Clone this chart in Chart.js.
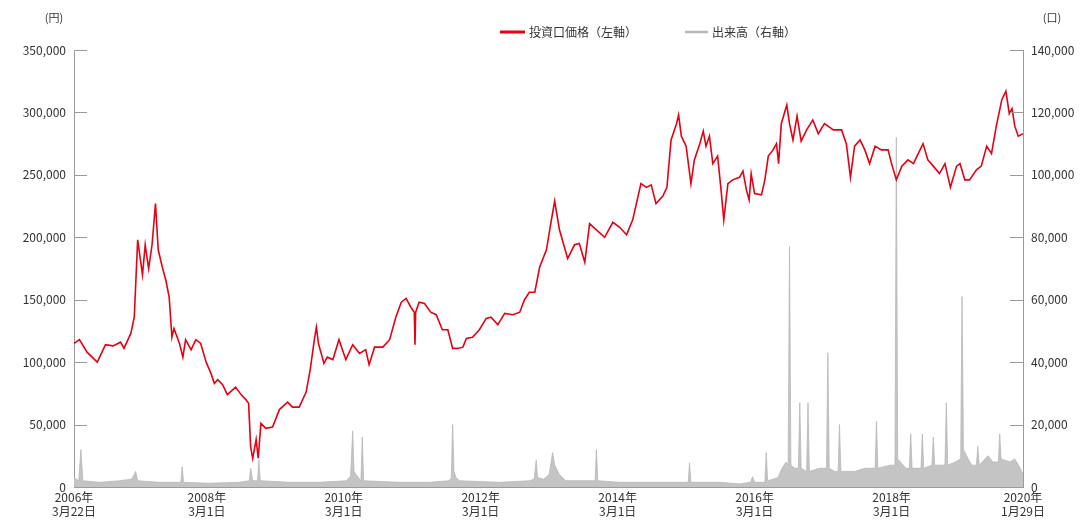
<!DOCTYPE html>
<html lang="ja">
<head>
<meta charset="utf-8">
<title>投資口価格と出来高</title>
<script src="https://cdn.jsdelivr.net/npm/chart.js@4.4.1/dist/chart.umd.min.js"></script>
<style>
  html, body { margin: 0; padding: 0; background: #fff; }
  #wrap { position: relative; width: 1088px; height: 526px; }
</style>
</head>
<body>
<div id="wrap"><canvas id="chart"></canvas></div>
<script>
// x values are decimal years (2006.22 = 2006-03-22)
const priceYears = [
  2006.22, 2006.30, 2006.41, 2006.56, 2006.68, 2006.79, 2006.90, 2006.95,
  2007.05, 2007.10, 2007.15, 2007.22, 2007.26, 2007.31, 2007.36, 2007.41, 2007.45, 2007.51, 2007.56, 2007.61, 2007.65, 2007.68, 2007.76, 2007.81, 2007.85, 2007.93,
  2008.00, 2008.07, 2008.15, 2008.22, 2008.27, 2008.32, 2008.39, 2008.46, 2008.58, 2008.66, 2008.73, 2008.77, 2008.80, 2008.83, 2008.88, 2008.91, 2008.95,
  2009.02, 2009.12, 2009.22, 2009.34, 2009.41, 2009.51, 2009.61, 2009.67, 2009.73, 2009.76, 2009.79, 2009.87, 2009.92,
  2010.00, 2010.09, 2010.19, 2010.29, 2010.39, 2010.48, 2010.53, 2010.61, 2010.73, 2010.83, 2010.92,
  2011.00, 2011.07, 2011.14, 2011.19, 2011.20, 2011.21, 2011.26, 2011.34, 2011.43, 2011.51, 2011.60, 2011.68, 2011.75, 2011.82, 2011.90, 2011.95,
  2012.04, 2012.14, 2012.24, 2012.31, 2012.41, 2012.51, 2012.63, 2012.73, 2012.80, 2012.87, 2012.95,
  2013.02, 2013.12, 2013.18, 2013.24, 2013.31, 2013.43, 2013.53, 2013.60, 2013.68, 2013.75, 2013.85, 2013.97,
  2014.09, 2014.19, 2014.29, 2014.38, 2014.50, 2014.58, 2014.65, 2014.72, 2014.82, 2014.88, 2014.94,
  2015.02, 2015.05, 2015.09, 2015.16, 2015.23, 2015.28, 2015.36, 2015.41, 2015.45, 2015.50, 2015.55, 2015.62, 2015.67, 2015.71, 2015.77, 2015.84, 2015.94, 2015.99,
  2016.04, 2016.08, 2016.11, 2016.16, 2016.26, 2016.31, 2016.36, 2016.43, 2016.48, 2016.51, 2016.55, 2016.63, 2016.67, 2016.72, 2016.78, 2016.84, 2016.92,
  2017.01, 2017.09, 2017.18, 2017.31, 2017.43, 2017.50, 2017.56, 2017.62, 2017.70, 2017.77, 2017.84, 2017.92,
  2018.01, 2018.11, 2018.16, 2018.23, 2018.31, 2018.40, 2018.48, 2018.55, 2018.62, 2018.69, 2018.77, 2018.86, 2018.94,
  2019.02, 2019.11, 2019.16, 2019.23, 2019.30, 2019.40, 2019.47, 2019.55, 2019.62, 2019.69, 2019.77, 2019.83, 2019.88, 2019.92, 2019.96,
  2020.01, 2020.08
];
const priceValues = [
  115000, 118000, 108000, 100000, 114000, 113000, 116000, 111000,
  123000, 136000, 198000, 170000, 194000, 175000, 194000, 227000, 190000, 176000, 166000, 152000, 120000, 127000, 115000, 104000, 118000, 110000,
  118000, 115000, 100000, 91000, 83000, 86000, 82000, 74000, 80000, 74000, 70000, 67000, 32000, 23000, 38000, 23000, 51000,
  47000, 48000, 62000, 68000, 64000, 64000, 76000, 94000, 118000, 128000, 115000, 99000, 104000,
  102000, 118000, 102000, 114000, 107000, 110000, 98000, 112000, 112000, 118000, 136000,
  148000, 151000, 144000, 140000, 114000, 140000, 148000, 147000, 140000, 138000, 126000, 126000, 111000, 111000, 112000, 119000,
  120000, 126000, 135000, 136000, 130000, 139000, 138000, 140000, 150000, 156000, 156000,
  176000, 190000, 210000, 229000, 206000, 183000, 194000, 195000, 180000, 211000, 206000, 200000,
  212000, 208000, 202000, 214000, 243000, 240000, 242000, 227000, 233000, 240000, 278000,
  291000, 298000, 281000, 273000, 243000, 262000, 275000, 285000, 273000, 281000, 259000, 265000, 238000, 214000, 243000, 246000, 248000, 253000,
  238000, 230000, 251000, 235000, 234000, 246000, 265000, 270000, 275000, 259000, 291000, 306000, 291000, 278000, 297000, 277000, 286000,
  294000, 283000, 291000, 286000, 286000, 275000, 248000, 273000, 278000, 270000, 259000, 273000,
  270000, 270000, 259000, 246000, 257000, 262000, 259000, 267000, 275000, 262000, 257000, 251000, 259000,
  240000, 257000, 259000, 246000, 246000, 254000, 257000, 273000, 267000, 289000, 310000, 317000, 299000, 303000, 289000,
  281000, 283000
];

const volumeYears = [
  2006.22, 2006.29, 2006.32, 2006.35, 2006.59, 2006.88,
  2007.06, 2007.10, 2007.12, 2007.15, 2007.46, 2007.78, 2007.80, 2007.82,
  2008.19, 2008.63, 2008.78, 2008.80, 2008.83, 2008.90, 2008.92, 2008.94,
  2009.36, 2009.80,
  2010.20, 2010.26, 2010.29, 2010.31, 2010.34, 2010.39, 2010.41, 2010.43, 2010.45, 2010.97,
  2011.41, 2011.70, 2011.73, 2011.75, 2011.77, 2011.80, 2011.85,
  2012.43, 2012.87, 2012.94, 2012.97, 2012.99,
  2013.08, 2013.16, 2013.21, 2013.24, 2013.31, 2013.40, 2013.83, 2013.85, 2013.87,
  2014.19, 2014.63,
  2015.19, 2015.21, 2015.23, 2015.65, 2015.94,
  2016.10, 2016.13, 2016.16, 2016.31, 2016.33, 2016.35, 2016.50, 2016.56, 2016.62, 2016.65, 2016.67, 2016.69, 2016.75, 2016.80, 2016.82, 2016.84, 2016.92, 2016.94, 2016.96,
  2017.11, 2017.21, 2017.23, 2017.25, 2017.33, 2017.38, 2017.40, 2017.42, 2017.62, 2017.77, 2017.92, 2017.94, 2017.96,
  2018.14, 2018.21, 2018.23, 2018.25, 2018.37, 2018.42, 2018.44, 2018.46, 2018.59, 2018.61, 2018.63, 2018.75, 2018.77, 2018.79, 2018.94, 2018.96, 2018.98,
  2019.09, 2019.17, 2019.19, 2019.21, 2019.28, 2019.33, 2019.40, 2019.42, 2019.44, 2019.57, 2019.64, 2019.72, 2019.74, 2019.76, 2019.89, 2019.96,
  2020.04, 2020.08
];
const volumeValues = [
  3000, 2000, 12000, 2000, 1500, 2000,
  2500, 4000, 5000, 2000, 1500, 1500, 6500, 1500,
  1200, 1500, 2000, 6000, 2000, 2000, 8600, 2000,
  1500, 1500,
  2000, 3500, 18000, 5000, 4000, 2500, 2000, 16000, 2000, 1500,
  1500, 2000, 3000, 20000, 5000, 3000, 2000,
  1500, 2000, 2500, 8600, 3000,
  2500, 4000, 11000, 7000, 4000, 2000, 2000, 12000, 2000,
  1500, 1500,
  1500, 7700, 1500, 1500, 1000,
  1500, 3300, 1500, 1500, 11000, 2000, 3000, 6000, 8000, 7000, 77000, 7000, 6000, 6000, 27000, 6000, 5000, 27000, 5000,
  6000, 6000, 43000, 6000, 5000, 5000, 20000, 5000, 5000, 6000, 6000, 21000, 6000,
  7000, 7000, 112000, 9000, 6000, 6000, 17000, 6000, 6000, 17000, 6000, 7000, 16000, 7000, 7000, 27000, 7000,
  8000, 9000, 61000, 12000, 9000, 7000, 7000, 13000, 7000, 10000, 8000, 8000, 17000, 9000, 8000, 9000,
  6000, 4000
];

const xTickValues = [2006.22, 2008.16, 2010.16, 2012.16, 2014.16, 2016.16, 2018.16, 2020.08];
const xTickYears = ['2006年', '2008年', '2010年', '2012年', '2014年', '2016年', '2018年', '2020年'];
const xTickDays = ['3月22日', '3月1日', '3月1日', '3月1日', '3月1日', '3月1日', '3月1日', '1月29日'];

const priceLabel = '投資口価格（左軸）';
const volumeLabel = '出来高（右軸）';
const priceUnit = '(円)';
const volumeUnit = '(口)';

const FONT = '"Noto Sans CJK JP", "Noto Sans", sans-serif';
const INK = '#333333';
const AXIS = '#9a9a9a';
const RED = '#e60012';
const GREY = '#b8b8b8';

const fmt = (v) => Number(v).toLocaleString('en-US');

// tick marks pointing into the plot, legend and unit captions
const decorations = {
  id: 'decorations',
  afterDraw(chart) {
    const { ctx, chartArea, scales } = chart;
    ctx.save();
    ctx.strokeStyle = AXIS;
    ctx.lineWidth = 1;
    scales.y.ticks.forEach((t) => {
      const py = Math.round(scales.y.getPixelForValue(t.value)) + 0.5;
      ctx.beginPath();
      ctx.moveTo(chartArea.left, py);
      ctx.lineTo(chartArea.left + 13, py);
      ctx.stroke();
    });
    scales.y1.ticks.forEach((t) => {
      const py = Math.round(scales.y1.getPixelForValue(t.value)) + 0.5;
      ctx.beginPath();
      ctx.moveTo(chartArea.right, py);
      ctx.lineTo(chartArea.right - 13, py);
      ctx.stroke();
    });

    ctx.fillStyle = INK;
    ctx.font = '11px ' + FONT;
    ctx.textBaseline = 'middle';
    ctx.textAlign = 'center';
    ctx.fillText(priceUnit, 54, 18);
    ctx.fillText(volumeUnit, 1052, 18);

    // legend
    const ds = chart.data.datasets;
    const items = [
      { x: 500, len: 25, width: 3, ds: ds[0] },
      { x: 685, len: 23, width: 2.5, ds: ds[1] },
    ];
    ctx.font = '12px ' + FONT;
    ctx.textAlign = 'left';
    items.forEach((it) => {
      ctx.strokeStyle = it.ds.borderColor;
      ctx.lineWidth = it.width;
      ctx.beginPath();
      ctx.moveTo(it.x, 32);
      ctx.lineTo(it.x + it.len, 32);
      ctx.stroke();
      ctx.fillStyle = INK;
      ctx.fillText(it.ds.label, it.x + it.len + 4, 32);
    });
    ctx.restore();
  },
};

const ctx = document.getElementById('chart').getContext('2d');
new Chart(ctx, {
  type: 'line',
  data: {
    datasets: [
      {
        label: priceLabel,
        data: priceYears.map((x, i) => ({ x, y: priceValues[i] })),
        yAxisID: 'y',
        borderColor: RED,
        borderWidth: 1.6,
        pointRadius: 0,
        tension: 0,
        fill: false,
        order: 0,
      },
      {
        label: volumeLabel,
        data: volumeYears.map((x, i) => ({ x, y: volumeValues[i] })),
        yAxisID: 'y1',
        borderColor: GREY,
        backgroundColor: '#c4c4c4',
        borderWidth: 0.8,
        pointRadius: 0,
        tension: 0,
        fill: 'origin',
        order: 1,
      },
    ],
  },
  options: {
    responsive: true,
    maintainAspectRatio: false,
    animation: false,
    layout: { padding: { top: 50, left: 0, right: 0, bottom: 0 } },
    scales: {
      x: {
        type: 'linear',
        min: 2006.22,
        max: 2020.08,
        afterBuildTicks: (scale) => {
          scale.ticks = xTickValues.map((value) => ({ value }));
        },
        afterFit: (scale) => { scale.height = 39; },
        ticks: {
          autoSkip: false,
          maxRotation: 0,
          padding: 3,
          color: INK,
          font: { family: FONT, size: 12 },
          callback: (value) => {
            const i = xTickValues.indexOf(value);
            return i >= 0 ? [xTickYears[i], xTickDays[i]] : '';
          },
        },
        grid: { display: false, drawTicks: false },
        border: { display: true, color: AXIS, width: 1 },
      },
      y: {
        position: 'left',
        min: 0,
        max: 350000,
        afterFit: (scale) => { scale.width = 74; },
        ticks: {
          stepSize: 50000,
          padding: 8,
          color: INK,
          font: { family: FONT, size: 12 },
          callback: (v) => fmt(v),
        },
        grid: { display: false, drawTicks: false },
        border: { display: true, color: AXIS, width: 1 },
      },
      y1: {
        position: 'right',
        min: 0,
        max: 140000,
        afterFit: (scale) => { scale.width = 65; },
        ticks: {
          stepSize: 20000,
          padding: 8,
          color: INK,
          font: { family: FONT, size: 12 },
          callback: (v) => fmt(v),
        },
        grid: { display: false, drawTicks: false },
        border: { display: true, color: AXIS, width: 1 },
      },
    },
    plugins: {
      legend: { display: false },
      tooltip: { enabled: false },
    },
  },
  plugins: [decorations],
});
</script>
</body>
</html>
